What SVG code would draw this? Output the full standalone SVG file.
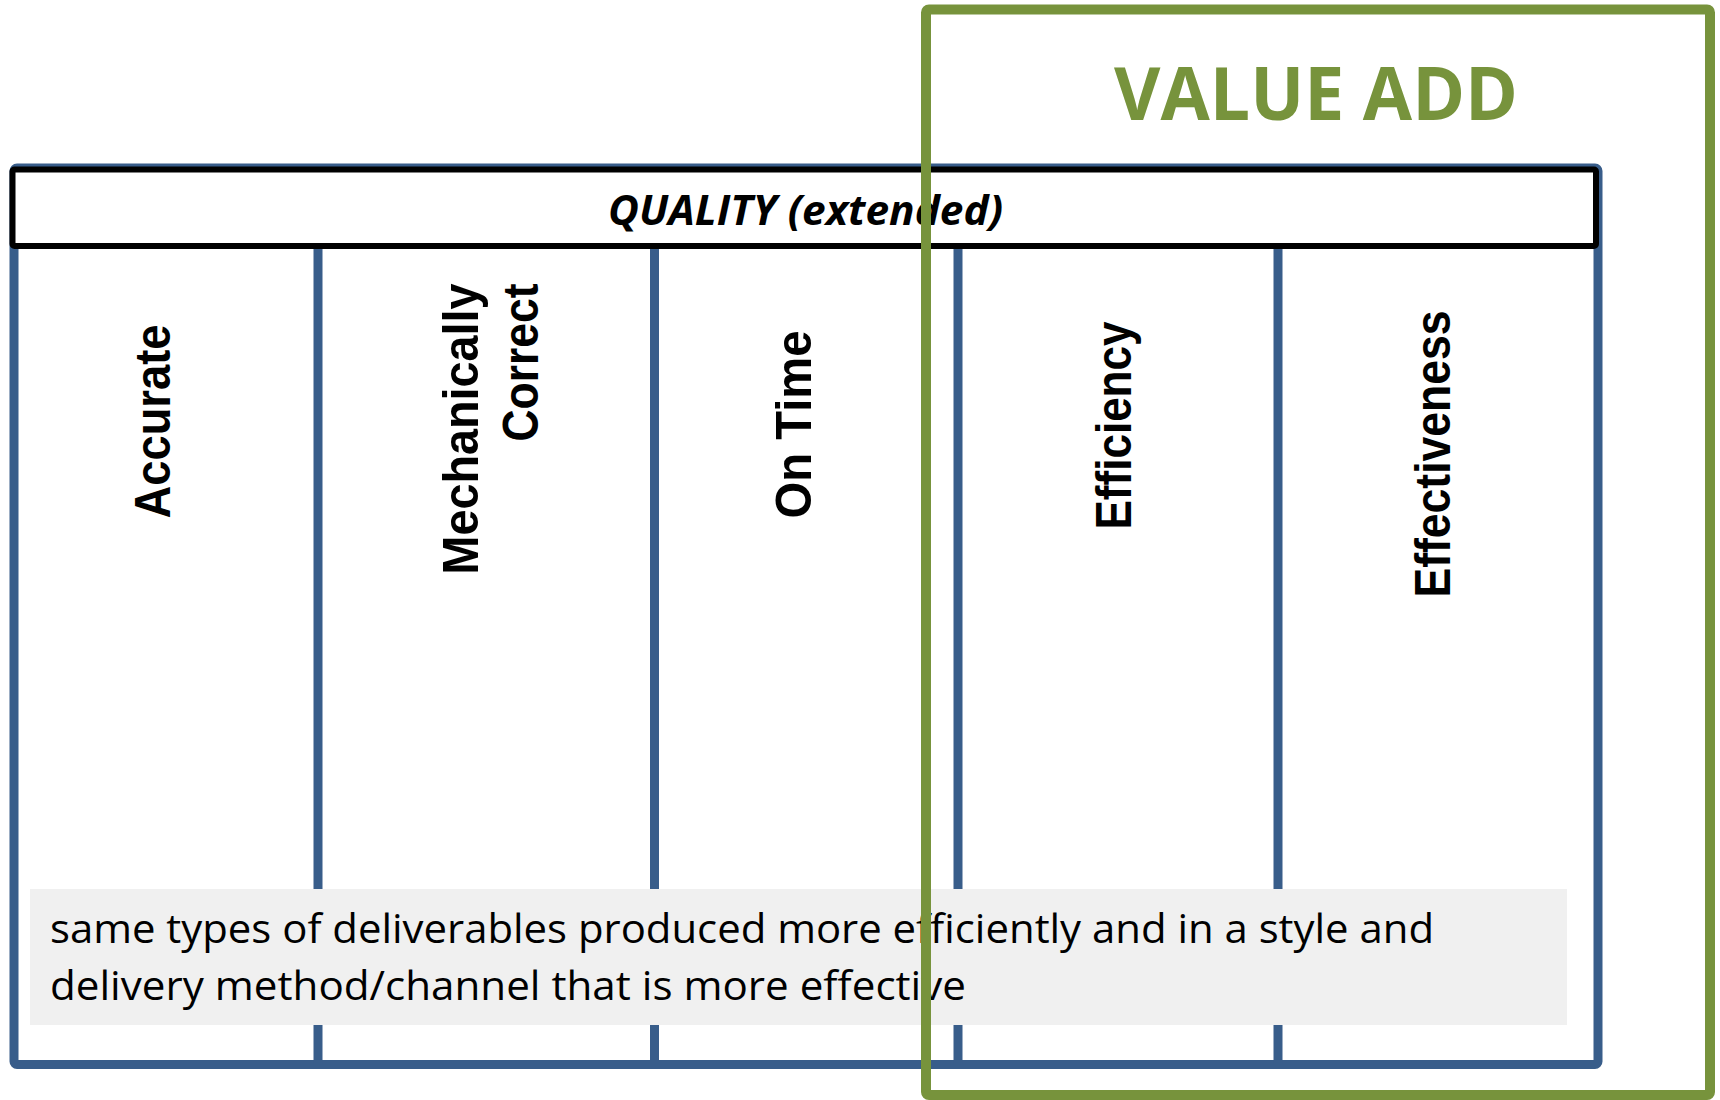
<svg xmlns="http://www.w3.org/2000/svg" width="1720" height="1100" viewBox="0 0 1720 1100">
  <style>
    .frame { fill: #ffffff; stroke: #385D8A; stroke-width: 9; stroke-linejoin: round; }
    .divider { stroke: #385D8A; stroke-width: 9; }
    .header { fill: #ffffff; stroke: #000000; stroke-width: 6; stroke-linejoin: round; }
    .col { font-family: "Liberation Sans", Arial, sans-serif; font-weight: bold; font-size: 50px; fill: #000000; text-anchor: middle; }
    .title { font-family: "Open Sans", "Noto Sans", sans-serif; font-weight: bold; font-style: italic; font-size: 42px; fill: #000000; text-anchor: middle; }
    .note-bg { fill: #F0F0F0; }
    .note { font-family: "Open Sans", "Noto Sans", sans-serif; font-size: 40px; fill: #000000; }
    .va-box { fill: none; stroke: #77933C; stroke-width: 10; stroke-linejoin: round; }
    .va-label { font-family: "Open Sans", "Noto Sans", sans-serif; font-weight: bold; font-size: 74px; fill: #77933C; text-anchor: middle; }
  </style>

  <!-- outer frame of the quality table -->
  <g id="quality-frame">
    <rect class="frame" x="14" y="168" width="1584" height="896.5" rx="3"/>
  </g>

  <!-- column separators -->
  <g id="connectors">
    <line class="divider" x1="318" y1="247" x2="318" y2="1064"/>
    <line class="divider" x1="654.5" y1="247" x2="654.5" y2="1064"/>
    <line class="divider" x1="958" y1="247" x2="958" y2="1064"/>
    <line class="divider" x1="1278" y1="247" x2="1278" y2="1064"/>
  </g>

  <!-- header bar -->
  <g id="quality-header">
    <rect class="header" x="12.5" y="169.5" width="1583.5" height="76.5" rx="2"/>
    <text class="title" x="805.5" y="225" textLength="395" lengthAdjust="spacingAndGlyphs">QUALITY (extended)</text>
  </g>

  <!-- column labels, rotated to read bottom to top -->
  <g id="col-accurate">
    <text class="col" transform="translate(170,421.5) rotate(-90)" textLength="194" lengthAdjust="spacingAndGlyphs">Accurate</text>
  </g>
  <g id="col-mechanically-correct">
    <text class="col" transform="translate(478,429) rotate(-90)" textLength="291" lengthAdjust="spacingAndGlyphs">Mechanically</text>
    <text class="col" transform="translate(538,362.5) rotate(-90)" textLength="158" lengthAdjust="spacingAndGlyphs">Correct</text>
  </g>
  <g id="col-on-time">
    <text class="col" transform="translate(811,424.5) rotate(-90)" textLength="188" lengthAdjust="spacingAndGlyphs">On Time</text>
  </g>
  <g id="col-efficiency">
    <text class="col" transform="translate(1131,425.5) rotate(-90)" textLength="208" lengthAdjust="spacingAndGlyphs">Efficiency</text>
  </g>
  <g id="col-effectiveness">
    <text class="col" transform="translate(1450,454) rotate(-90)" textLength="287" lengthAdjust="spacingAndGlyphs">Effectiveness</text>
  </g>

  <!-- description strip -->
  <g id="description">
    <rect class="note-bg" x="30" y="889" width="1537" height="136"/>
    <text class="note" x="50" y="943" textLength="1384" lengthAdjust="spacingAndGlyphs">same types of deliverables produced more efficiently and in a style and</text>
    <text class="note" x="50" y="1000" textLength="916" lengthAdjust="spacingAndGlyphs">delivery method/channel that is more effective</text>
  </g>

  <!-- value add overlay -->
  <g id="value-add">
    <rect class="va-box" x="926" y="9.5" width="784" height="1085.5" rx="3"/>
    <text class="va-label" x="1316" y="120" textLength="404" lengthAdjust="spacingAndGlyphs">VALUE ADD</text>
  </g>
</svg>
